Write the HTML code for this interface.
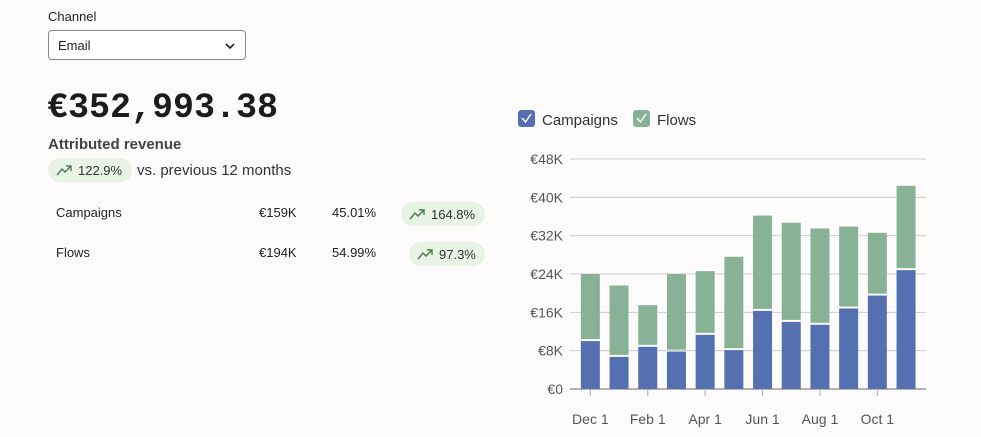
<!DOCTYPE html>
<html><head><meta charset="utf-8"><style>
body{margin:0;width:981px;height:437px;background:#fdfbfb;font-family:"Liberation Sans",sans-serif;color:#222;position:relative;overflow:hidden}
.abs{position:absolute}
.pill{position:absolute;background:#e8f3e4;border-radius:12px;height:24px;font-size:13px;color:#333;display:flex;align-items:center;padding:0 8px;box-sizing:border-box}
.pill svg{margin-right:6px}
.row{font-size:13px;color:#222}
</style></head><body>
<div class="abs" style="left:48px;top:9px;font-size:13px">Channel</div>
<div class="abs" style="left:48px;top:30px;width:198px;height:30px;border:1px solid #888;border-radius:4px;background:#fff;box-sizing:border-box">
<span style="position:absolute;left:9px;top:7px;font-size:13px">Email</span>
<svg style="position:absolute;right:9px;top:10px" width="12" height="10"><path d="M2 3 L6 7 L10 3" stroke="#222" stroke-width="1.6" fill="none"/></svg></div>
<div class="abs" style="left:47px;top:88px;font-family:'Liberation Mono',monospace;font-weight:bold;font-size:35px;color:#1c1c1c">€352,993.38</div>
<div class="abs" style="left:48px;top:136px;font-size:15px;font-weight:bold;color:#444">Attributed revenue</div>
<div class="pill" style="left:48px;top:158px;width:84px"><svg width="16" height="12"><path d="M1 11 L6 5 L9 8 L15 2 M10 2 L15 2 L15 7" stroke="#4a7a4a" stroke-width="1.4" fill="none"/></svg>122.9%</div>
<div class="abs" style="left:137px;top:162px;font-size:15px;color:#333">vs. previous 12 months</div>
<div class="abs row" style="left:56px;top:205px">Campaigns</div>
<div class="abs row" style="left:259px;top:205px">€159K</div>
<div class="abs row" style="left:332px;top:205px">45.01%</div>
<div class="pill" style="left:401px;top:202px;width:84px"><svg width="16" height="12"><path d="M1 11 L6 5 L9 8 L15 2 M10 2 L15 2 L15 7" stroke="#4a7a4a" stroke-width="1.4" fill="none"/></svg>164.8%</div>
<div class="abs row" style="left:56px;top:245px">Flows</div>
<div class="abs row" style="left:259px;top:245px">€194K</div>
<div class="abs row" style="left:332px;top:245px">54.99%</div>
<div class="pill" style="left:409px;top:242px;width:76px"><svg width="16" height="12"><path d="M1 11 L6 5 L9 8 L15 2 M10 2 L15 2 L15 7" stroke="#4a7a4a" stroke-width="1.4" fill="none"/></svg>97.3%</div>

<svg id="chart" class="abs" style="left:0;top:0" width="981" height="437">
<g><rect x="518" y="110" width="17" height="17" rx="3" fill="#5470b0"/><path d="M522 118 L525.5 122 L531 114" stroke="#fff" stroke-width="1.4" fill="none"/><text x="542" y="125" font-size="15" fill="#333">Campaigns</text></g>
<g><rect x="633" y="110" width="17" height="17" rx="3" fill="#88b295"/><path d="M637 118 L640.5 122 L646 114" stroke="#fff" stroke-width="1.4" fill="none"/><text x="657" y="125" font-size="15" fill="#333">Flows</text></g>
<g id="grid"></g><g id="bars"></g><g id="axes"></g>
</svg>
<script>
const categories=["Dec","Jan","Feb","Mar","Apr","May","Jun","Jul","Aug","Sep","Oct","Nov"];
const campaigns=[10,6.7,8.8,7.8,11.3,8.1,16.3,14.0,13.4,16.8,19.5,24.8];
const flows=[14,14.9,8.7,16.2,13.3,19.5,19.9,20.7,20.1,17.1,13.1,17.6];
const yTicks=[0,8,16,24,32,40,48];
const xTickLabels=["Dec 1","Feb 1","Apr 1","Jun 1","Aug 1","Oct 1"];
const NS="http://www.w3.org/2000/svg";
const y0=389,yTop=159,yMax=48,x0=576,step=28.7,bw=19;
const y=v=>y0-(v/yMax)*(y0-yTop);
const xc=i=>x0+step*(i+0.5);
function mk(t,a,p){const e=document.createElementNS(NS,t);for(const k in a)e.setAttribute(k,a[k]);p.appendChild(e);return e;}
const grid=document.getElementById('grid'),bars=document.getElementById('bars'),axes=document.getElementById('axes');
yTicks.forEach(v=>{
 const l=mk('line',{x1:570,x2:926,y1:y(v),y2:y(v),stroke:v===0?'#999':'#ccc','stroke-width':v===0?1.5:1},grid);
 
 
 const t=mk('text',{x:563,y:y(v)+5,'text-anchor':'end','font-size':14,fill:'#555'},axes);
 t.textContent='€'+v+(v?'K':'');
 
 
});
categories.forEach((c,i)=>{
 const ct=y(campaigns[i]),tt=y(campaigns[i]+flows[i]);
 const b1=mk('rect',{x:xc(i)-bw/2,y:ct,width:bw,height:y0-ct,fill:'#5470b0'},bars);
 
 
 const b2=mk('rect',{x:xc(i)-bw/2,y:tt,width:bw,height:ct-tt-2,fill:'#88b295'},bars);
 
 
 if(i%2===0){
  mk('line',{x1:xc(i),x2:xc(i),y1:y0,y2:y0+7,stroke:'#aaa'},axes);
  const t=mk('text',{x:xc(i),y:424,'text-anchor':'middle','font-size':14,fill:'#555'},axes);
  t.textContent=xTickLabels[i/2];
  
  
 }
});
</script>
</body></html>
